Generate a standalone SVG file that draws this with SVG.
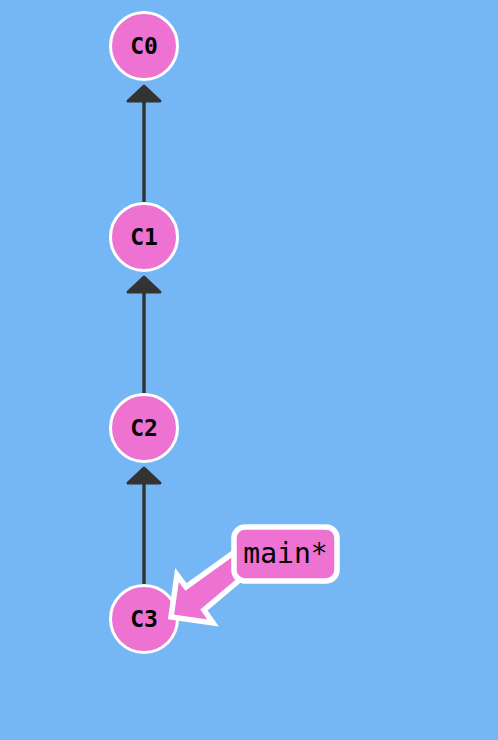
<svg xmlns="http://www.w3.org/2000/svg" width="498" height="740" viewBox="0 0 498 740">
<style>
.node circle{fill:#ee72d1;stroke:#fff;stroke-width:3}
.node text{font-family:"DejaVu Sans Mono",monospace;font-weight:bold;font-size:23px;fill:#000;text-anchor:middle;dominant-baseline:central}
.edge line{stroke:#333;stroke-width:3.5}
.edge path{fill:#333;stroke:#333;stroke-width:3;stroke-linejoin:round}
.branch rect,.branch path{fill:#ee72d1;stroke:#fff;stroke-width:5.5;stroke-linejoin:miter}
.branch text{font-family:"DejaVu Sans Mono",monospace;font-size:28px;fill:#000;text-anchor:middle}
</style>
<rect width="498" height="740" fill="#75b7f5"/>
<g id="connectors">
<g class="edge"><line x1="144" y1="204" x2="144" y2="98"/><path d="M144 86 L160 101 L128 101 Z"/></g>
<g class="edge"><line x1="144" y1="395" x2="144" y2="289"/><path d="M144 277 L160 292 L128 292 Z"/></g>
<g class="edge"><line x1="144" y1="586" x2="144" y2="480"/><path d="M144 468 L160 483 L128 483 Z"/></g>
</g>
<g id="C0" class="node"><circle cx="144" cy="46" r="33.5"/><text x="144" y="46">C0</text></g>
<g id="C1" class="node"><circle cx="144" cy="237" r="33.5"/><text x="144" y="237">C1</text></g>
<g id="C2" class="node"><circle cx="144" cy="428" r="33.5"/><text x="144" y="428">C2</text></g>
<g id="C3" class="node"><circle cx="144" cy="619" r="33.5"/><text x="144" y="619">C3</text></g>
<g id="main" class="branch">
<path d="M171 617 L177 575 L186 587 L236 551 L249 572 L204 610 L213 623 Z"/>
<rect x="234" y="527" width="103" height="54" rx="11"/>
<text x="285.5" y="563">main*</text>
</g>
</svg>
